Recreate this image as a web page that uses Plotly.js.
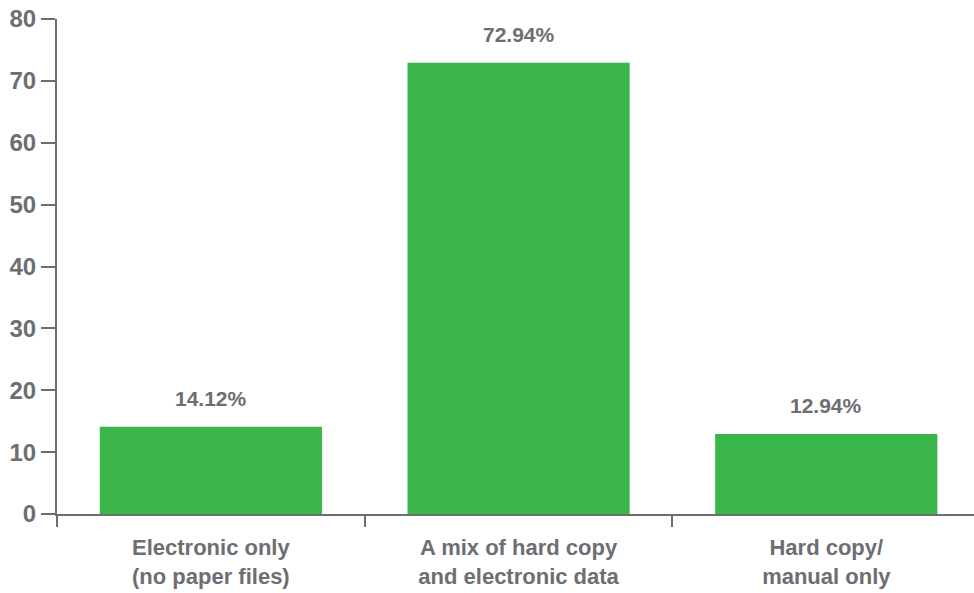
<!DOCTYPE html>
<html>
<head>
<meta charset="utf-8">
<script src="https://cdn.plot.ly/plotly-3.0.1.min.js"></script>
<style>html,body{margin:0;padding:0;background:#fff;}#chart{width:974px;height:593px;}</style>
</head>
<body>
<div id="chart"></div>
<script>
var categories = ["Electronic only<br>(no paper files)", "A mix of hard copy<br>and electronic data", "Hard copy/<br>manual only"];
var values = [14.12, 72.94, 12.94];
var valueLabels = ["14.12%", "72.94%", "12.94%"];
var yTicks = [0, 10, 20, 30, 40, 50, 60, 70, 80];

var grey = "#6d6e71";
var fontFam = "Liberation Sans, Arial, sans-serif";

var boldCats = categories.map(function (c) {
  return c.split("<br>").map(function (s) { return "<b>" + s + "</b>"; }).join("<br>");
});

var trace = {
  type: "bar",
  x: boldCats,
  y: values,
  marker: {color: "#3ab54a"},
  hoverinfo: "none"
};

var annotations = values.map(function (v, i) {
  return {
    x: boldCats[i], y: v, xref: "x", yref: "y",
    text: "<b>" + valueLabels[i] + "</b>",
    showarrow: false, yshift: 28,
    font: {family: fontFam, size: 21, color: grey}
  };
});

var layout = {
  width: 974, height: 593,
  margin: {l: 57, r: 0, t: 19, b: 79},
  paper_bgcolor: "#fff", plot_bgcolor: "#fff",
  bargap: 0.278,
  showlegend: false,
  xaxis: {
    type: "category",
    range: [-0.5, 2.48],
    tickson: "boundaries",
    ticks: "outside", ticklen: 11, tickwidth: 2, tickcolor: grey,
    ticklabelstandoff: 13,
    showline: true, linecolor: grey, linewidth: 2,
    showgrid: false, zeroline: false,
    tickfont: {family: fontFam, size: 22, color: grey}
  },
  yaxis: {
    range: [0, 80],
    tickmode: "array",
    tickvals: yTicks,
    ticktext: yTicks.map(function (t) { return "<b>" + t + "</b>"; }),
    ticks: "outside", ticklen: 14, tickwidth: 2, tickcolor: grey,
    showline: true, linecolor: grey, linewidth: 2,
    showgrid: false, zeroline: false,
    tickfont: {family: fontFam, size: 24, color: grey}
  },
  annotations: annotations
};

Plotly.newPlot("chart", [trace], layout, {displayModeBar: false, staticPlot: true});
</script>
</body>
</html>
